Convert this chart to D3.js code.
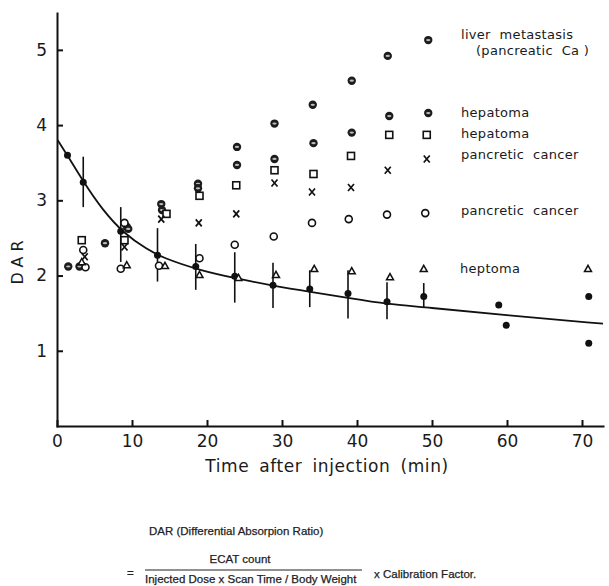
<!DOCTYPE html>
<html lang="en">
<head>
<meta charset="UTF-8">
<script src="https://d3js.org/d3.v7.min.js"></script>
<style>
    body { margin: 0; background: #fff; }
    svg { display: block; }
    .axis path, .axis line { stroke: #111; stroke-width: 2px; }
    .axis text { font-family: "DejaVu Sans", sans-serif; font-size: 17px; fill: #1a1a1a; }
    .lbl { font-family: "DejaVu Sans", sans-serif; font-size: 13px; fill: #1a1a1a; letter-spacing: 0.3px; }
    .formula { font-family: "Liberation Sans", Arial, sans-serif; font-size: 11.5px; fill: #222; stroke: #222; stroke-width: 0.25px; }
</style>
</head>
<body>
<div class="chart"></div>
<script>
    const width = 609, height = 586

    // liver metastasis (pancreatic Ca), half-filled circles
    const liverT = [3.0, 9.3, 13.9, 18.8, 24.0, 29.0, 34.1, 39.3, 44.1, 49.5]
    const liverV = [2.12, 2.65, 2.95, 3.22, 3.71, 4.02, 4.27, 4.59, 4.92, 5.13]
    // hepatoma, half-filled circles
    const hepaAT = [1.5, 6.4, 9.5, 14.0, 18.8, 24.0, 29.0, 34.2, 39.3, 44.3, 49.5]
    const hepaAV = [2.12, 2.43, 2.62, 2.87, 3.16, 3.47, 3.55, 3.76, 3.90, 4.12, 4.16]
    // hepatoma, squares
    const hepaBT = [3.3, 9.0, 14.6, 19.0, 23.9, 29.0, 34.2, 39.2, 44.3, 49.3]
    const hepaBV = [2.47, 2.47, 2.82, 3.06, 3.20, 3.40, 3.35, 3.59, 3.87, 3.87]
    // pancretic cancer, crosses
    const pancAT = [3.7, 9.0, 13.9, 18.9, 23.9, 29.0, 34.0, 39.2, 44.1, 49.3]
    const pancAV = [2.25, 2.38, 2.75, 2.70, 2.82, 3.23, 3.11, 3.17, 3.40, 3.55]
    // pancretic cancer, open circles
    const pancBT = [3.5, 3.8, 8.5, 9.0, 13.6, 19.0, 23.7, 28.9, 34.0, 38.9, 44.0, 49.1]
    const pancBV = [2.34, 2.11, 2.09, 2.70, 2.13, 2.23, 2.41, 2.52, 2.70, 2.75, 2.81, 2.83]
    // heptoma, triangles
    const heptT = [3.3, 9.3, 14.4, 19.0, 24.2, 29.2, 34.3, 39.3, 44.4, 48.9, 70.8]
    const heptV = [2.18, 2.14, 2.13, 2.01, 1.97, 2.01, 2.09, 2.06, 1.98, 2.09, 2.09]
    // mean values with error bars
    const meanT = [1.4, 3.5, 8.5, 13.4, 18.5, 23.7, 28.8, 33.7, 38.8, 44.0, 48.9]
    const meanV = [3.60, 3.24, 2.59, 2.27, 2.12, 1.99, 1.87, 1.82, 1.76, 1.65, 1.72]
    const meanLo = [null, 2.91, 2.18, 1.92, 1.81, 1.64, 1.57, 1.58, 1.43, 1.42, 1.57]
    const meanHi = [null, 3.58, 2.91, 2.63, 2.42, 2.31, 2.17, 2.07, 2.07, 1.91, 1.90]
    // single late points
    const lateT = [58.9, 59.9, 70.9, 70.9]
    const lateV = [1.61, 1.34, 1.72, 1.10]
    // fitted curve
    const fitT = [0.1, 1.5, 3.5, 6, 9, 12, 14, 19, 24, 29, 34, 39, 44, 49, 60, 72.8]
    const fitV = [3.80, 3.58, 3.25, 2.88, 2.55, 2.35, 2.24, 2.07, 1.96, 1.86, 1.78, 1.70, 1.62, 1.58, 1.47, 1.36]

    const xTicks = [0, 10, 20, 30, 40, 50, 60, 70]
    const yTicks = [1, 2, 3, 4, 5]

    const labels = [
        { text: 'liver  metastasis', x: 461, y: 39 },
        { text: '(pancreatic  Ca )', x: 476, y: 55 },
        { text: 'hepatoma', x: 461, y: 117 },
        { text: 'hepatoma', x: 461, y: 138 },
        { text: 'pancretic  cancer', x: 461, y: 159 },
        { text: 'pancretic  cancer', x: 461, y: 215 },
        { text: 'heptoma', x: 460, y: 273 }
    ]

    const zip = (t, v) => t.map((d, i) => ({ t: d, v: v[i] }))

    const svg = d3.select('.chart')
        .append('svg')
        .attr('width', width)
        .attr('height', height)

    const x = d3.scaleLinear().domain([0, 72.8]).range([57, 603])
    const y = d3.scaleLinear().domain([0, 5.49]).range([426, 13])

    svg.append('g')
        .attr('class', 'axis')
        .attr('transform', 'translate(0,426)')
        .call(d3.axisBottom(x).tickValues(xTicks).tickSizeInner(-6).tickSizeOuter(0).tickPadding(9))

    svg.append('g')
        .attr('class', 'axis')
        .attr('transform', 'translate(57,0)')
        .call(d3.axisLeft(y).tickValues(yTicks).tickFormat(d3.format('d'))
            .tickSizeInner(-6).tickSizeOuter(0).tickPadding(10))

    svg.selectAll('.axis .domain').attr('stroke-linecap', 'square')

    svg.append('text')
        .attr('x', 327).attr('y', 472)
        .attr('text-anchor', 'middle')
        .style('font-family', '"DejaVu Sans", sans-serif')
        .style('font-size', '17px')
        .style('letter-spacing', '0.6px')
        .style('word-spacing', '4px')
        .attr('fill', '#1a1a1a')
        .text('Time after injection (min)')

    svg.append('text')
        .attr('transform', 'translate(23,260) rotate(-90)')
        .attr('text-anchor', 'middle')
        .style('font-family', '"DejaVu Sans", sans-serif')
        .style('font-size', '16px')
        .style('letter-spacing', '5px')
        .attr('fill', '#1a1a1a')
        .text('DAR')

    // fitted curve
    const line = d3.line()
        .x(d => x(d.t))
        .y(d => y(d.v))
        .curve(d3.curveBasis)

    svg.append('path')
        .datum(zip(fitT, fitV))
        .attr('d', line)
        .attr('fill', 'none')
        .attr('stroke', '#111')
        .attr('stroke-width', 1.8)

    // error bars
    const mean = meanT.map((t, i) => ({ t, v: meanV[i], lo: meanLo[i], hi: meanHi[i] }))
    svg.selectAll('.err')
        .data(mean.filter(d => d.lo != null))
        .enter().append('line')
        .attr('x1', d => x(d.t)).attr('x2', d => x(d.t))
        .attr('y1', d => y(d.lo)).attr('y2', d => y(d.hi))
        .attr('stroke', '#111')
        .attr('stroke-width', 1.6)

    svg.selectAll('.mean')
        .data(mean.concat(zip(lateT, lateV)))
        .enter().append('circle')
        .attr('cx', d => x(d.t)).attr('cy', d => y(d.v))
        .attr('r', 3.5)
        .attr('fill', '#111')

    // half-filled circle markers
    const half = zip(liverT, liverV).concat(zip(hepaAT, hepaAV))
    const hg = svg.selectAll('.half')
        .data(half)
        .enter().append('g')
        .attr('transform', d => `translate(${x(d.t)},${y(d.v)})`)
    hg.append('circle').attr('r', 4.2).attr('fill', '#1c1c1c')
    hg.append('ellipse').attr('rx', 2.2).attr('ry', 1.1).attr('fill', '#bbb')

    svg.selectAll('.sq')
        .data(zip(hepaBT, hepaBV))
        .enter().append('rect')
        .attr('x', d => x(d.t) - 3.5).attr('y', d => y(d.v) - 3.5)
        .attr('width', 7).attr('height', 7)
        .attr('fill', 'white')
        .attr('stroke', '#111')
        .attr('stroke-width', 1.6)

    svg.selectAll('.cross')
        .data(zip(pancAT, pancAV))
        .enter().append('path')
        .attr('d', d => {
            const cx = x(d.t), cy = y(d.v)
            return `M${cx - 3},${cy - 3.5}L${cx + 3},${cy + 3.5}M${cx + 3},${cy - 3.5}L${cx - 3},${cy + 3.5}`
        })
        .attr('stroke', '#111')
        .attr('stroke-width', 1.7)

    svg.selectAll('.ring')
        .data(zip(pancBT, pancBV))
        .enter().append('circle')
        .attr('cx', d => x(d.t)).attr('cy', d => y(d.v))
        .attr('r', 3.5)
        .attr('fill', 'white')
        .attr('stroke', '#111')
        .attr('stroke-width', 1.6)

    svg.selectAll('.tri')
        .data(zip(heptT, heptV))
        .enter().append('path')
        .attr('d', d => {
            const cx = x(d.t), cy = y(d.v)
            return `M${cx},${cy - 3.5}L${cx + 3.5},${cy + 2.8}L${cx - 3.5},${cy + 2.8}Z`
        })
        .attr('fill', 'white')
        .attr('stroke', '#111')
        .attr('stroke-width', 1.5)

    svg.selectAll('.lbl')
        .data(labels)
        .enter().append('text')
        .attr('class', 'lbl')
        .attr('x', d => d.x).attr('y', d => d.y)
        .style('white-space', 'pre')
        .text(d => d.text)

    // definition of DAR below the chart
    const f = svg.append('g').attr('class', 'formula')
    f.append('text').attr('x', 149).attr('y', 535).text('DAR (Differential Absorpion Ratio)')
    f.append('text').attr('x', 127).attr('y', 577).text('=')
    f.append('text').attr('x', 240).attr('y', 563).attr('text-anchor', 'middle').text('ECAT count')
    f.append('line').attr('x1', 145).attr('x2', 362).attr('y1', 570).attr('y2', 570).attr('stroke-width', 1.2)
    f.append('text').attr('x', 145).attr('y', 583).text('Injected Dose x Scan Time / Body Weight')
    f.append('text').attr('x', 374).attr('y', 578).text('x Calibration Factor.')
</script>
</body>
</html>
